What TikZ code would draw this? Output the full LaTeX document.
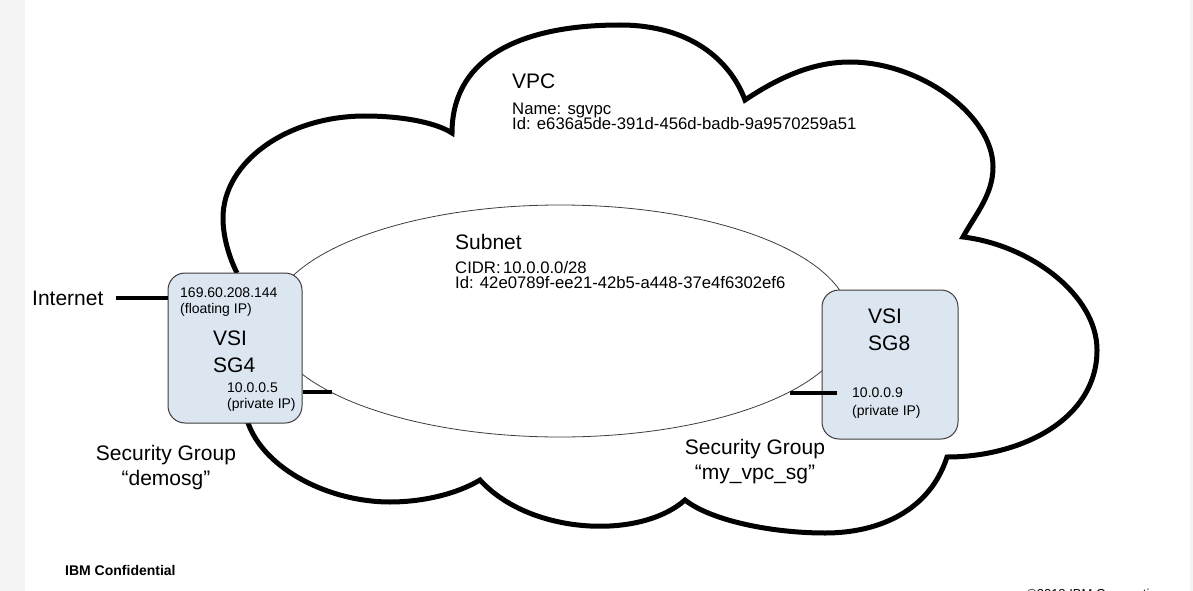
\documentclass[tikz,border=0pt]{standalone}
\usepackage{fontspec}
\setmainfont{Liberation Sans}
\usepackage{xcolor}
\usepackage{tikz}
\usetikzlibrary{positioning}
\definecolor{vsiblue}{RGB}{220,230,241}
\definecolor{edgegray}{RGB}{60,60,60}
\definecolor{margingray}{RGB}{244,244,244}
\newcommand{\sizeL}{\fontsize{21}{24}\selectfont}
\newcommand{\sizeM}{\fontsize{16.7}{15}\selectfont}
\newcommand{\sizeS}{\fontsize{14}{16}\selectfont}
\tikzset{
  vsi/.style={draw=edgegray, fill=vsiblue, line width=1pt, rounded corners=17pt, inner sep=0pt},
  txt/.style={anchor=base west, inner sep=0pt},
  ctxt/.style={anchor=base, inner sep=0pt},
  wire/.style={line width=4pt},
  cloudline/.style={line width=5pt},
}

\begin{document}
\begin{tikzpicture}[x=1pt,y=-1pt]
\useasboundingbox (0,0) rectangle (1193,591);
\fill[margingray] (0,0) rectangle (25,591);
\fill[margingray] (1190,0) rectangle (1193,591);

% VPC cloud
\draw[cloudline] (237,273) .. controls (228,255) and (223,235) .. (223,218)
  .. controls (223,162) and (287,116) .. (365,116)
  .. controls (400,116) and (435,122) .. (452,133)
  .. controls (452,55) and (525,25) .. (620,25)
  .. controls (690,25) and (730,60) .. (745,100)
  .. controls (775,80) and (810,62) .. (850,62)
  .. controls (920,62) and (993,115) .. (993,167)
  .. controls (993,195) and (975,215) .. (963,237)
  .. controls (1030,245) and (1097,295) .. (1097,350)
  .. controls (1097,420) and (1020,457) .. (947,457)
  .. controls (930,510) and (880,533) .. (825,533)
  .. controls (770,533) and (710,520) .. (685,500)
  .. controls (640,540) and (530,535) .. (480,480)
  .. controls (455,495) and (420,502) .. (390,502)
  .. controls (330,502) and (265,470) .. (248,423)
  .. controls (235,390) and (232,310) .. (237,273);

% subnet
\draw[edgegray, line width=0.8pt] (560,321) ellipse [x radius=290, y radius=116];

% the two VSIs
\node[vsi, minimum width=134pt, minimum height=150pt] (sg4) at (235,348) {};
\node[vsi, minimum width=136pt, minimum height=149pt] (sg8) at (890,364.5) {};

\node[txt, font=\sizeL] (internet) at (32,305) {Internet};
\coordinate (sg4port) at (332,392);
\coordinate (sg8port) at (790,393);
\draw[wire] ([xshift=12pt]internet.east) -- (internet.east -| sg4.west);
\draw[wire] (sg4port -| sg4.east) -- (sg4port);
\draw[wire] (sg8port) -- ([xshift=15pt]sg8port -| sg8.west);

% texts
\node[txt, font=\sizeL] (vpctitle) at (512,89) {VPC};
\node[txt, font=\sizeM] (vpcname) at (512,114) {Name: sgvpc};
\node[txt, font=\sizeM] (vpcid) at (512,129) {Id: e636a5de-391d-456d-badb-9a9570259a51};

\node[txt, font=\sizeL] (subtitle) at (455,249) {Subnet};
\node[txt, font=\sizeM] (subcidr) at (455,273) {CIDR:\hspace{0.15em}10.0.0.0/28};
\node[txt, font=\sizeM] (subid) at (455,288) {Id: 42e0789f-ee21-42b5-a448-37e4f6302ef6};

\node[txt, font=\sizeS] (sg4fip) at (180,297) {169.60.208.144};
\node[txt, font=\sizeS] (sg4fipnote) at (180,313) {(floating IP)};
\node[txt, font=\sizeL] (sg4vsi) at (213,345) {VSI};
\node[txt, font=\sizeL] (sg4name) at (213,372) {SG4};
\node[txt, font=\sizeS] (sg4ip) at (227,392) {10.0.0.5};
\node[txt, font=\sizeS] (sg4ipnote) at (227,408) {(private IP)};

\node[txt, font=\sizeL] (sg8vsi) at (868,323) {VSI};
\node[txt, font=\sizeL] (sg8name) at (868,350) {SG8};
\node[txt, font=\sizeS] (sg8ip) at (852,397) {10.0.0.9};
\node[txt, font=\sizeS] (sg8ipnote) at (852,415) {(private IP)};

\node[ctxt, font=\sizeL] (demosg) at (166,460) {Security Group};
\node[ctxt, font=\sizeL] (demosgname) at (166,485) {“demosg”};
\node[ctxt, font=\sizeL] (vpcsg) at (755,454) {Security Group};
\node[ctxt, font=\sizeL] (vpcsgname) at (755,479) {“my\_vpc\_sg”};

\node[txt, font=\sizeS\bfseries] (confidential) at (65,575) {IBM Confidential};
\begin{scope}
  \clip (0,0) rectangle (1193,591);
  \node[txt, font=\fontsize{13}{15}\selectfont] (copyright) at (1027,598) {©2018 IBM Corporation};
\end{scope}
\end{tikzpicture}
\end{document}
